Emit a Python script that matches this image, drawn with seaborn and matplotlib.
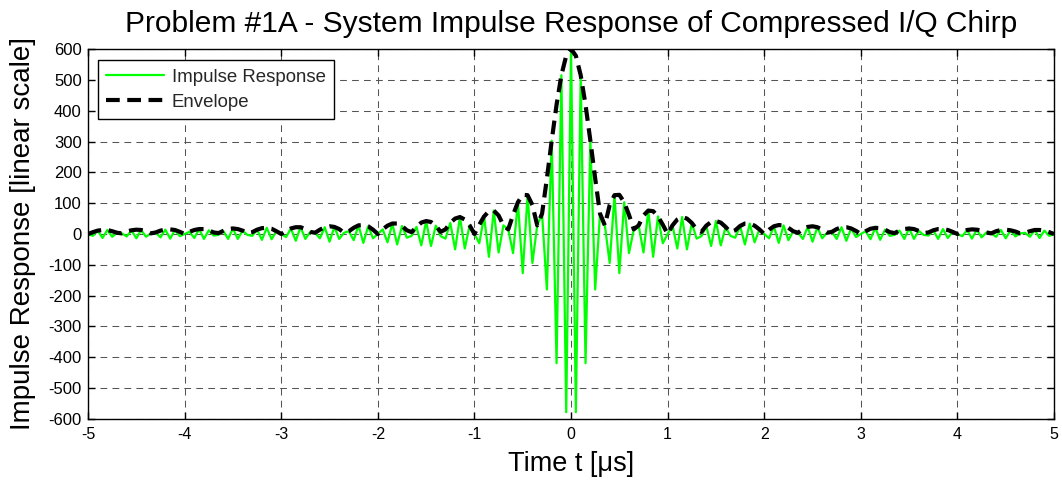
import numpy as np
import pandas as pd
import matplotlib
matplotlib.use("Agg")
import matplotlib.pyplot as plt
import seaborn as sns

# Sample times of the compressed pulse, in microseconds (0.05 us spacing)
time_us = np.linspace(-5.0, 5.0, 201)

# Real part of the compressed I/Q chirp at each sample time
impulse_response = [
    0, -6, 11, -13, 13, -9, 4, 2, -8, 12, -14, 13, -9, 2, 5, -11, 14, -15, 13, -7,
    0, 7, -13, 16, -16, 12, -5, -3, 10, -16, 18, -16, 11, -3, -6, 14, -19, 20, -17, 9,
    0, -10, 18, -22, 22, -16, 7, 4, -14, 22, -25, 23, -16, 4, 9, -20, 28, -29, 25, -14,
    0, 15, -27, 34, -34, 26, -12, -6, 23, -37, 42, -39, 27, -7, -15, 36, -50, 55, -47, 28,
    0, -30, 57, -74, 76, -60, 28, 15, -62, 103, -127, 126, -94, 28, 66, -180, 303, -419, 515, -578,
    600,
    -578, 515, -419, 303, -180, 66, 28, -94, 126, -127, 103, -62, 15, 28, -60, 76, -74, 57, -30,
    0, 28, -47, 55, -50, 36, -15, -7, 27, -39, 42, -37, 23, -6, -12, 26, -34, 34, -27, 15,
    0, -14, 25, -29, 28, -20, 9, 4, -16, 23, -25, 22, -14, 4, 7, -16, 22, -22, 18, -10,
    0, 9, -17, 20, -19, 14, -6, -3, 11, -16, 18, -16, 10, -3, -5, 12, -16, 16, -13, 7,
    0, -7, 13, -15, 14, -11, 5, 2, -9, 13, -14, 12, -8, 2, 4, -9, 13, -13, 11, -6, 0,
]

x_ticks = list(range(-5, 6))
y_ticks = list(range(-600, 601, 100))

title_text = "Problem #1A - System Impulse Response of Compressed I/Q Chirp"
x_label = "Time t [\u03bcs]"
y_label = "Impulse Response [linear scale]"

df = pd.DataFrame({
    "t": time_us,
    "response": impulse_response,
})
# Magnitude of the compressed pulse
df["envelope"] = df["response"].abs()

sns.set_theme(style="white")
plt.rcParams["font.family"] = ["Liberation Sans", "DejaVu Sans"]

fig = plt.figure(figsize=(10.62, 4.8), dpi=100)
ax = fig.add_axes([0.0829, 0.1271, 0.9096, 0.7708])

sns.lineplot(data=df, x="t", y="response", ax=ax, color="#00ff00",
             linewidth=1.6, label="Impulse Response", sort=False)
sns.lineplot(data=df, x="t", y="envelope", ax=ax, color="black",
             linewidth=3.0, label="Envelope", sort=False)
ax.lines[1].set_dashes((3.3, 1.8))

ax.set_xlim(-5, 5)
ax.set_ylim(-600, 600)
ax.set_xticks(x_ticks)
ax.set_yticks(y_ticks)
ax.set_xticklabels([str(v) for v in x_ticks], fontsize=11.5)
ax.set_yticklabels([str(v) for v in y_ticks], fontsize=12)

ax.grid(True, color="#555555", linewidth=0.75, linestyle=(0, (6.5, 5.0)))
ax.set_axisbelow(True)

for s in ax.spines.values():
    s.set_visible(True)
    s.set_color("black")
    s.set_linewidth(1.0)

ax.tick_params(axis="both", which="both", direction="in", length=5, width=1,
               top=True, right=True, bottom=True, left=True, colors="black")
ax.tick_params(axis="x", pad=5.5)
ax.tick_params(axis="y", pad=4.5)

ax.set_title(title_text, fontsize=21.5, pad=12, color="black")
ax.set_xlabel(x_label, fontsize=19.5, labelpad=7, color="black")
ax.set_ylabel(y_label, fontsize=20, labelpad=9, color="black")

leg = ax.legend(loc="upper left", bbox_to_anchor=(0.0104, 0.97), fontsize=13.4,
                frameon=True, fancybox=False, framealpha=1, edgecolor="black",
                handlelength=3.1, handletextpad=0.4, borderpad=0.45,
                labelspacing=0.45, borderaxespad=0)
leg.get_frame().set_linewidth(1.0)

fig.savefig("out.png", dpi=100)
